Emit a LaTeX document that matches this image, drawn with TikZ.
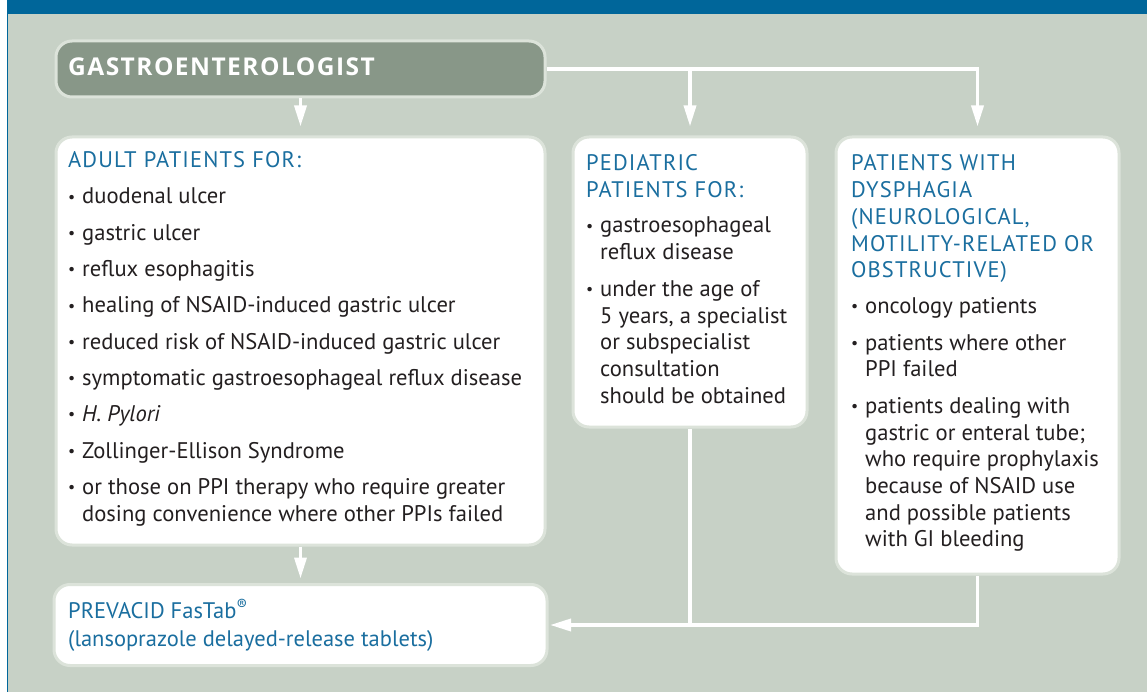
\documentclass[tikz,border=0pt]{standalone}
\usepackage{fontspec}
\usepackage{graphicx}
\setmainfont{PT Sans}
\newfontfamily\gfont[LetterSpace=6]{Open Sans}
\usetikzlibrary{arrows.meta}
\definecolor{bgc}{HTML}{C7D1C6}
\definecolor{barc}{HTML}{00669A}
\definecolor{gfill}{HTML}{889788}
\definecolor{bord}{HTML}{DCE3DA}
\definecolor{hblue}{HTML}{1A6E9F}
\definecolor{txtc}{HTML}{231F20}
\newcommand\bfont{\fontsize{22.6}{26.7}\selectfont}
\newcommand\hfont{\fontsize{22.5}{26.7}\selectfont\addfontfeatures{LetterSpace=5}}
\newcommand\bl{\makebox[14pt][l]{\raisebox{0.08em}{\scalebox{0.7}{•}}}}
\newcommand\ind{\hspace*{14pt}}
\begin{document}
\begin{tikzpicture}[x=1pt,y=-1pt,
  box/.style={draw=bord, line width=3pt, fill=white, rounded corners=16pt, inner sep=0pt},
  gbox/.style={draw=bord, line width=3pt, fill=gfill, rounded corners=16pt, inner sep=0pt},
  conn/.style={draw=white, line width=3.5pt},
  arr/.style={conn, -{Triangle[length=21pt,width=12pt]}},
  txt/.style={anchor=base west, inner sep=0pt, text=txtc, font=\bfont}]
\useasboundingbox (0,0) rectangle (1147,692);
\fill[white] (0,0) rectangle (1147,692);
\fill[bgc] (7,14) rectangle (1147,692);
\fill[barc] (7,0) rectangle (1147,14);
\fill[barc] (6.7,0) rectangle (8.3,692);
% boxes
\node[gbox, minimum width=489pt, minimum height=56pt] (gastro) at (300.5,69) {};
\node[box, minimum width=489pt, minimum height=408pt] (adult) at (300.5,341) {};
\node[box, minimum width=234pt, minimum height=290pt] (ped) at (690,282) {};
\node[box, minimum width=283pt, minimum height=437pt] (dys) at (977.5,355.5) {};
\node[box, minimum width=493pt, minimum height=81pt] (prev) at (300.5,625) {};
% texts
\node[anchor=base west, inner sep=0pt, text=white, font=\gfont\fontsize{24.5}{26}\selectfont\bfseries] (gtxt) at (68,76) {GASTROENTEROLOGIST};
\node[txt] (adulttxt) at (68,167.7) {\parbox[t]{470pt}{\raggedright\leavevmode
{\color{hblue}\hfont ADULT PATIENTS FOR:}\\[9.6pt]
\bl duodenal ulcer\\[9.6pt]
\bl gastric ulcer\\[9.6pt]
\bl reflux esophagitis\\[9.6pt]
\bl healing of NSAID-induced gastric ulcer\\[9.6pt]
\bl reduced risk of NSAID-induced gastric ulcer\\[9.6pt]
\bl symptomatic gastroesophageal reflux disease\\[9.6pt]
\bl \textit{H. Pylori}\\[9.6pt]
\bl Zollinger-Ellison Syndrome\\[9.6pt]
\bl or those on PPI therapy who require greater\\
\ind dosing convenience where other PPIs failed}};
\node[txt] (pedtxt) at (586,171) {\parbox[t]{215pt}{\raggedright\leavevmode
{\color{hblue}\hfont PEDIATRIC\\
PATIENTS FOR:}\\[8.6pt]
\bl gastroesophageal\\
\ind reflux disease\\[10pt]
\bl under the age of\\
\ind 5 years, a specialist\\
\ind or subspecialist\\
\ind consultation\\
\ind should be obtained}};
\node[txt] (dystxt) at (851,171) {\parbox[t]{270pt}{\raggedright\leavevmode
{\color{hblue}\hfont PATIENTS WITH\\
DYSPHAGIA\\
(NEUROLOGICAL,\\
MOTILITY-RELATED OR\\
OBSTRUCTIVE)}\\[8.9pt]
\bl oncology patients\\[10pt]
\bl patients where other\\
\ind PPI failed\\[10pt]
\bl patients dealing with\\
\ind gastric or enteral tube;\\
\ind who require prophylaxis\\
\ind because of NSAID use\\
\ind and possible patients\\
\ind with GI bleeding}};
\node[txt] (prevtxt) at (68,618) {\parbox[t]{470pt}{\raggedright\leavevmode\color{hblue}\fontsize{22.5}{28.3}\selectfont
PREVACID FasTab\textsuperscript{\textregistered}\\
(lansoprazole delayed-release tablets)}};
% connectors
\draw[arr, shorten >=9pt] (gastro.south) -- (adult.north);
\draw[arr, shorten >=9pt] (gastro.east) -- (dys.north |- gastro.east) -- (dys.north);
\draw[arr, shorten >=9pt] (ped.north |- gastro.east) -- (ped.north);
\draw[arr, shorten >=4.5pt] (adult.south) -- (prev.north);
\draw[conn] (ped.south) -- (ped.south |- prev.east);
\draw[arr, shorten >=1.5pt] (dys.south) -- (dys.south |- prev.east) -- (prev.east);
\end{tikzpicture}
\end{document}
